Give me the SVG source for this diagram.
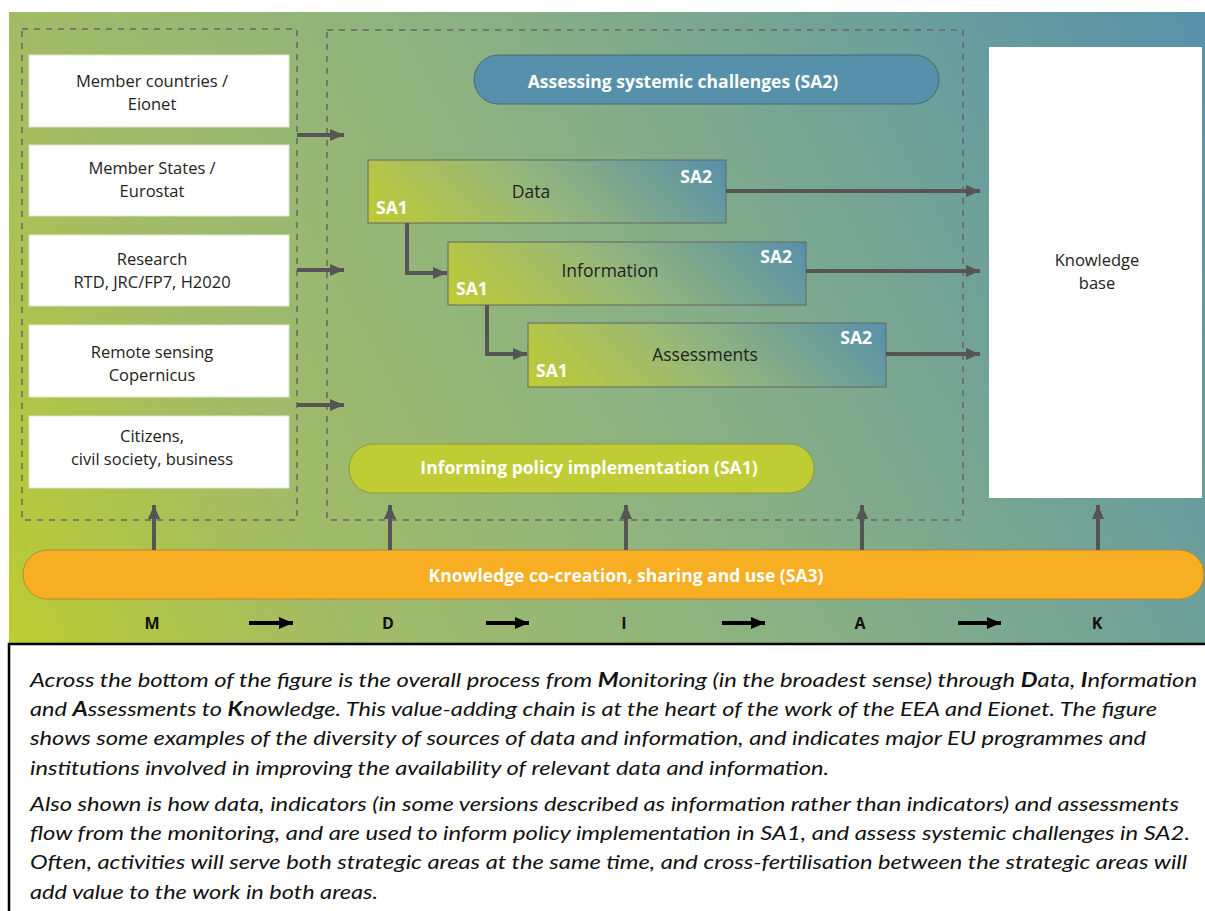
<svg xmlns="http://www.w3.org/2000/svg" width="1205" height="911" viewBox="0 0 1205 911">
<defs>
<linearGradient id="bg" gradientUnits="userSpaceOnUse" x1="9" y1="643" x2="1205" y2="12">
<stop offset="0" stop-color="#bccc30"/>
<stop offset="0.22" stop-color="#a2bc66"/>
<stop offset="0.5" stop-color="#8cb282"/>
<stop offset="0.78" stop-color="#6ea09a"/>
<stop offset="1" stop-color="#5891aa"/>
</linearGradient>
<linearGradient id="boxg" gradientUnits="userSpaceOnUse" x1="0" y1="63" x2="212" y2="-149">
<stop offset="0" stop-color="#bfcb33"/>
<stop offset="0.45" stop-color="#98b879"/>
<stop offset="1" stop-color="#5690aa"/>
</linearGradient>
<marker id="ah" markerUnits="userSpaceOnUse" markerWidth="16" markerHeight="16" refX="14" refY="8" orient="auto">
<path d="M0,2 L14,8 L0,14 Z" fill="#555"/>
</marker>
<marker id="ahb" markerUnits="userSpaceOnUse" markerWidth="16" markerHeight="16" refX="14" refY="8" orient="auto">
<path d="M0,2 L14,8 L0,14 Z" fill="#000"/>
</marker>
<style>
.t{font-family:"Open Sans","Liberation Sans",sans-serif;font-size:16.5px;fill:#222;text-anchor:middle}
.bl{font-size:17.5px}
.w{font-family:"Open Sans","Liberation Sans",sans-serif;font-size:17.5px;font-weight:bold;fill:#fff}
.sa{font-family:"Open Sans","Liberation Sans",sans-serif;font-size:17.5px;font-weight:bold;fill:#fff}
.k{font-family:"Open Sans","Liberation Sans",sans-serif;font-size:16px;font-weight:bold;fill:#111;text-anchor:middle}
.wb{fill:#fff;stroke:#dde5d0;stroke-width:1}
.dash{fill:none;stroke:#666;stroke-width:1.5;stroke-dasharray:6 6}
.c{fill:none;stroke:#555;stroke-width:4;marker-end:url(#ah)}
.cb{fill:none;stroke:#000;stroke-width:4;marker-end:url(#ahb)}
.box{fill:url(#boxg);stroke:#666;stroke-width:1}
.cap{font-family:"Lato","Liberation Sans",sans-serif;font-size:20px;font-style:italic;fill:#111}
.cap tspan.b{font-weight:bold}
</style>
</defs>

<rect x="9" y="12" width="1196" height="632" fill="url(#bg)"/>

<g id="frames">
<rect class="dash" x="22" y="29" width="275" height="491"/>
<rect class="dash" x="327" y="30" width="636" height="490"/>
</g>

<g id="sources">
<g id="n-member-countries"><rect class="wb" x="29" y="55" width="260" height="72"/>
<text class="t" x="152" y="87">Member countries /</text><text class="t" x="152" y="110">Eionet</text></g>
<g id="n-member-states"><rect class="wb" x="29" y="145" width="260" height="71"/>
<text class="t" x="152" y="174">Member States /</text><text class="t" x="152" y="197">Eurostat</text></g>
<g id="n-research"><rect class="wb" x="29" y="235" width="260" height="71"/>
<text class="t" x="152" y="265">Research</text><text class="t" x="152" y="288">RTD, JRC/FP7, H2020</text></g>
<g id="n-remote"><rect class="wb" x="29" y="325" width="260" height="72"/>
<text class="t" x="152" y="358">Remote sensing</text><text class="t" x="152" y="381">Copernicus</text></g>
<g id="n-citizens"><rect class="wb" x="29" y="416" width="260" height="72"/>
<text class="t" x="152" y="442">Citizens,</text><text class="t" x="152" y="465">civil society, business</text></g>
</g>

<g id="n-sa2">
<rect x="474" y="55" width="465" height="49" rx="24.5" fill="#5690aa" stroke="#45697a" stroke-width="1"/>
<text class="w" x="683" y="88" text-anchor="middle">Assessing systemic challenges (SA2)</text>
</g>

<g id="n-data" transform="translate(368,160)">
<rect class="box" x="0" y="0" width="358" height="63"/>
<text class="t bl" x="163" y="38">Data</text>
<text class="sa" x="8" y="54">SA1</text>
<text class="sa" x="344" y="23" text-anchor="end">SA2</text>
</g>
<g id="n-information" transform="translate(448,242)">
<rect class="box" x="0" y="0" width="358" height="63"/>
<text class="t bl" x="162" y="35">Information</text>
<text class="sa" x="8" y="53">SA1</text>
<text class="sa" x="344" y="21" text-anchor="end">SA2</text>
</g>
<g id="n-assessments" transform="translate(528,323)">
<rect class="box" x="0" y="0" width="358" height="64"/>
<text class="t bl" x="177" y="38">Assessments</text>
<text class="sa" x="8" y="54">SA1</text>
<text class="sa" x="344" y="21" text-anchor="end">SA2</text>
</g>

<g id="n-sa1">
<rect x="349" y="444" width="465" height="49" rx="24.5" fill="#bfcc33" stroke="#8e9c3a" stroke-width="1"/>
<text class="w" x="589" y="474" text-anchor="middle">Informing policy implementation (SA1)</text>
</g>

<g id="n-knowledge">
<rect x="989" y="47" width="213" height="451" fill="#fff"/>
<text class="t" x="1097" y="266">Knowledge</text>
<text class="t" x="1097" y="289">base</text>
</g>

<g id="n-sa3">
<rect x="23" y="550" width="1181" height="49" rx="24.5" fill="#f7ae23" stroke="#b5873a" stroke-width="1"/>
<text class="w" x="626" y="582" text-anchor="middle">Knowledge co-creation, sharing and use (SA3)</text>
</g>

<g id="connectors">
<path class="c" d="M297,135 H344"/>
<path class="c" d="M297,270 H344"/>
<path class="c" d="M297,405 H344"/>
<path class="c" d="M407,223 V273 H447"/>
<path class="c" d="M487,305 V354 H527"/>
<path class="c" d="M726,191 H980"/>
<path class="c" d="M806,271 H980"/>
<path class="c" d="M886,354 H980"/>
<path class="c" d="M154,550 V505"/>
<path class="c" d="M390,550 V505"/>
<path class="c" d="M626,550 V505"/>
<path class="c" d="M862,550 V505"/>
<path class="c" d="M1098,550 V505"/>
<path class="cb" d="M249,623 H293"/>
<path class="cb" d="M486,623 H529"/>
<path class="cb" d="M722,623 H765"/>
<path class="cb" d="M958,623 H1001"/>
</g>

<g id="process">
<text class="k" x="152" y="629">M</text>
<text class="k" x="388" y="629">D</text>
<text class="k" x="624" y="629">I</text>
<text class="k" x="860" y="629">A</text>
<text class="k" x="1097" y="629">K</text>
</g>

<g id="caption">
<rect x="9" y="644" width="1210" height="280" fill="#fff" stroke="#000" stroke-width="2.5"/>
<text class="cap" x="30" y="687" textLength="1167" lengthAdjust="spacingAndGlyphs">Across the bottom of the figure is the overall process from <tspan class="b">M</tspan>onitoring (in the broadest sense) through <tspan class="b">D</tspan>ata, <tspan class="b">I</tspan>nformation</text>
<text class="cap" x="30" y="716" textLength="1127" lengthAdjust="spacingAndGlyphs">and <tspan class="b">A</tspan>ssessments to <tspan class="b">K</tspan>nowledge. This value-adding chain is at the heart of the work of the EEA and Eionet. The figure</text>
<text class="cap" x="30" y="745" textLength="1116" lengthAdjust="spacingAndGlyphs">shows some examples of the diversity of sources of data and information, and indicates major EU programmes and</text>
<text class="cap" x="30" y="775" textLength="799" lengthAdjust="spacingAndGlyphs">institutions involved in improving the availability of relevant data and information.</text>
<text class="cap" x="30" y="811" textLength="1149" lengthAdjust="spacingAndGlyphs">Also shown is how data, indicators (in some versions described as information rather than indicators) and assessments</text>
<text class="cap" x="30" y="840" textLength="1160" lengthAdjust="spacingAndGlyphs">flow from the monitoring, and are used to inform policy implementation in SA1, and assess systemic challenges in SA2.</text>
<text class="cap" x="30" y="869" textLength="1157" lengthAdjust="spacingAndGlyphs">Often, activities will serve both strategic areas at the same time, and cross-fertilisation between the strategic areas will</text>
<text class="cap" x="30" y="899" textLength="348" lengthAdjust="spacingAndGlyphs">add value to the work in both areas.</text>
</g>
</svg>
